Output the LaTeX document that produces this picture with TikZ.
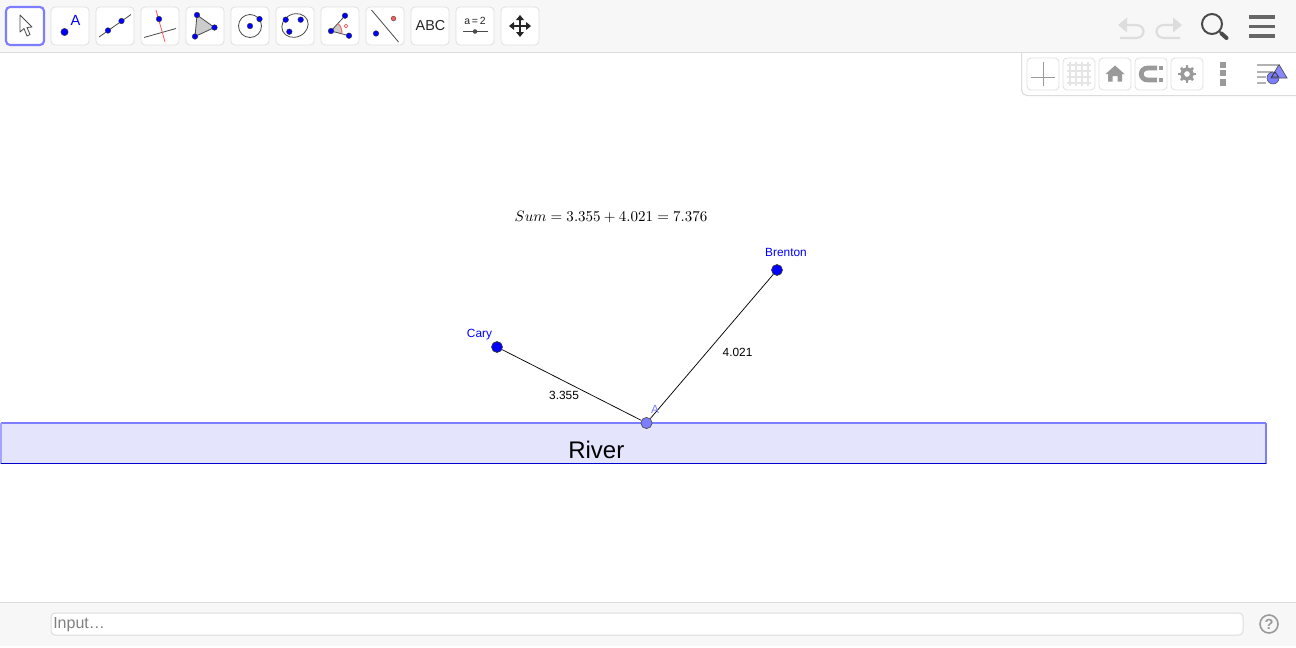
\documentclass[tikz,border=0pt]{standalone}
\usepackage[no-math]{fontspec}
\newfontfamily\lsans{Liberation Sans}
\definecolor{barbg}{HTML}{F7F7F7}
\definecolor{barline}{HTML}{DCDCDC}
\definecolor{btnline}{HTML}{E0E0E0}
\definecolor{selblue}{HTML}{7D7DFF}
\definecolor{ptblue}{HTML}{0000FF}
\definecolor{ptA}{HTML}{7D7DFF}
\definecolor{river}{HTML}{E4E4FC}
\definecolor{iconred}{HTML}{FF5A5A}
\definecolor{icondark}{HTML}{4A4A4A}
\definecolor{icongray}{HTML}{9A9A9A}
\definecolor{undogray}{HTML}{DDDDDD}
\tikzset{
  x=0.75pt,y=-0.75pt,
  tbtn/.style={draw=btnline,fill=white,rounded corners=3pt,line width=0.6pt},
  sbtn/.style={draw=btnline,fill=white,rounded corners=3pt,line width=0.6pt},
  dot/.style={circle,fill=ptblue,draw=black!80,line width=0.3pt,inner sep=0pt,minimum size=#1},
  dot/.default=4.2pt,
  pointnode/.style={circle,fill=ptblue,draw=black!80,line width=0.5pt,inner sep=0pt,minimum size=8.2pt},
  seg/.style={draw=black,line width=0.55pt},
  icoline/.style={draw=icondark,line width=0.6pt},
  lab/.style={font=\lsans\fontsize{8.9pt}{10pt}\selectfont,inner sep=0pt},
  ptlab/.style={lab,text=ptblue},
}
\begin{document}
\begin{tikzpicture}
\useasboundingbox (0,0) rectangle (1296,647);
\fill[white] (0,0) rectangle (1296,647);
% top bar
\fill[barbg] (0,0) rectangle (1296,52);
\draw[barline,line width=0.75pt] (0,52.5) -- (1296,52.5);
% toolbar buttons
\draw[selblue,fill=white,rounded corners=3pt,line width=1.6pt] (6,7) rectangle (44,45);
\foreach \x in {51,96,141,186,231,276,321,366,411,456,501}
  \draw[tbtn] (\x,7) rectangle (\x+38,45);
% cursor
\draw[icondark,fill=white,line width=0.6pt,line join=round] (20,15) -- (20,32) -- (24,28.5) -- (27,36) -- (30,34.5) -- (27,27.5) -- (32,27) -- cycle;
% point
\node[dot=5.5pt] (i1) at (64.5,32) {};
\node[font=\lsans\fontsize{11pt}{12pt}\selectfont,text=ptblue,inner sep=0pt] (i1a) at (75.5,20.5) {A};
% line
\draw[icoline] (99,37) -- (131,14.5);
\node[dot] at (108,30.5) {};
\node[dot] at (121.5,21) {};
% perpendicular
\draw[icoline] (144,37.5) -- (176,28.5);
\draw[iconred,line width=0.6pt] (156,10) -- (165,42);
\node[dot] at (159,19) {};
% polygon
\fill[black!20] (197,15) -- (214.5,27.5) -- (195,36.5) -- cycle;
\draw[icoline] (197,15) -- (214.5,27.5) -- (195,36.5) -- cycle;
\node[dot] at (197,15) {};
\node[dot] at (214.5,27.5) {};
\node[dot] at (195,36.5) {};
% circle
\draw[icoline] (250,26) circle (11.5);
\node[dot] at (250,26) {};
\node[dot] at (259.5,19) {};
% conic
\draw[icoline,rotate around={25:(295,25.5)}] (295,25.5) ellipse (13.5 and 11.5);
\node[dot] at (285.7,19.7) {};
\node[dot] at (300.7,19.7) {};
\node[dot] at (289.3,31.7) {};
% angle
\fill[black!20] (331,31) -- (338.3,23.8) .. controls (341,26) and (342,30) .. (342,33.8) -- cycle;
\draw[icoline] (345,15.7) -- (331,31) -- (349,35.7);
\draw[iconred,line width=0.7pt] (338.3,23.8) .. controls (341,26) and (342,30) .. (342,33.8);
\node[dot] at (345,15.7) {};
\node[dot] at (331,31) {};
\node[dot] at (349,35.7) {};
\draw[iconred,line width=0.5pt] (346,26) circle (1.8);
% reflect
\draw[icoline] (371.5,10) -- (398.5,42);
\node[dot] at (376,33.5) {};
\node[circle,fill=iconred,draw=black!70,line width=0.3pt,inner sep=0pt,minimum size=3.6pt] at (393.5,18.5) {};
% ABC
\node[font=\lsans\fontsize{10.8pt}{12pt}\selectfont,text=black!85,inner sep=0pt] (abc) at (430.5,26) {ABC};
% slider
\node[font=\lsans\fontsize{7.8pt}{8pt}\selectfont,text=black!85,inner sep=0pt] (sl) at (475,21) {a\,=\,2};
\draw[icondark,line width=0.6pt] (463,31.5) -- (487.5,31.5);
\node[circle,fill=icondark,inner sep=0pt,minimum size=3.4pt] at (475,31.5) {};
% move
\draw[black!85,line width=1pt] (510,26) -- (530,26) (520,16) -- (520,36);
\fill[black!85] (509,26) -- (514,22) -- (514,30) -- cycle;
\fill[black!85] (531,26) -- (526,22) -- (526,30) -- cycle;
\fill[black!85] (520,15) -- (516,20) -- (524,20) -- cycle;
\fill[black!85] (520,37) -- (516,32) -- (524,32) -- cycle;
% undo redo
\draw[undogray,line width=1.6pt] (1122,25) -- (1136,25) .. controls (1146,25) and (1146,38) .. (1136,38) -- (1120,38);
\fill[undogray] (1118,25) -- (1127,17.5) -- (1127,32.5) -- cycle;
\draw[undogray,line width=1.6pt] (1174,25) -- (1164,25) .. controls (1154,25) and (1154,38) .. (1164,38) -- (1180,38);
\fill[undogray] (1182,25) -- (1173,17.5) -- (1173,32.5) -- cycle;
% search
\draw[icondark,line width=1.5pt] (1212,24) circle (10);
\draw[icondark,line width=1.2pt] (1219,31) -- (1221.5,33.5);
\draw[icondark,line width=3pt,line cap=round] (1221.5,33.5) -- (1226.5,38);
% menu
\foreach \y in {17,26.5,36}
  \fill[black!60] (1249,\y-1.7) rectangle (1275,\y+1.7);
% style bar panel
\draw[barline,line width=0.75pt,rounded corners=4pt] (1021.5,53) -- (1021.5,95.5) -- (1296,95.5);
\foreach \x in {1027,1063,1099,1135,1171}
  \draw[sbtn] (\x,58) rectangle (\x+32,90);
% axes
\draw[icongray,line width=0.7pt] (1031,77) -- (1055,77) (1043,62) -- (1043,86);
% grid
\foreach \t in {1070,1076,1082,1088} \draw[black!10,line width=0.8pt] (\t,62) -- (\t,86);
\foreach \t in {65,71,77,83} \draw[black!10,line width=0.8pt] (1067,\t) -- (1091,\t);
% home
\fill[icongray] (1115,65.5) -- (1124.5,74) -- (1122,74) -- (1122,81.5) -- (1117.5,81.5) -- (1117.5,76) -- (1112.5,76) -- (1112.5,81.5) -- (1108,81.5) -- (1108,74) -- (1105.5,74) -- cycle;
% magnet
\draw[icongray,line width=3.6pt] (1157,68) -- (1148,68) .. controls (1139,68) and (1139,80) .. (1148,80) -- (1157,80);
\fill[icongray] (1159,66) rectangle (1163,70);
\fill[icongray] (1159,78) rectangle (1163,82);
% gear
\draw[icongray,line width=2.8pt] (1187,74) circle (5);
\foreach \a in {0,45,...,315}
  \draw[icongray,line width=2pt] (1187,74) ++(\a:6) -- ++(\a:2.6);
% dots
\fill[icongray] (1220,62) rectangle (1226,68);
\fill[icongray] (1220,70) rectangle (1226,76);
\fill[icongray] (1220,79) rectangle (1226,86);
% properties
\draw[black!30,line width=1pt] (1257,65) -- (1278,65);
\draw[black!30,line width=1pt] (1257,72) -- (1273,72);
\draw[black!30,line width=1pt] (1257,77) -- (1266,77);
\draw[black!30,line width=1pt] (1257,83) -- (1266,83);
\filldraw[fill=selblue,draw=icondark,line width=0.4pt] (1273,78) circle (6);
\filldraw[fill=selblue,fill opacity=0.9,draw=icondark,line width=0.5pt] (1279,64.5) -- (1287,78) -- (1271,78) -- cycle;
\draw[black!80,line width=0.5pt] (1275,72) -- (1278.5,77) -- (1271.5,77) -- cycle;
% river
\fill[river] (1,423) rectangle (1266,463.5);
\draw[selblue,line width=1pt] (1,423) -- (1266,423);
\draw[selblue,line width=1pt] (1266,423) -- (1266,463.5);
\draw[selblue!70,line width=0.8pt] (1,423) -- (1,463.5);
\draw[ptblue!80!black,line width=0.8pt] (1,463.5) -- (1266,463.5);
\node[font=\lsans\fontsize{18pt}{20pt}\selectfont,inner sep=0pt,anchor=base west] (riv) at (568,458) {River};
% formula
\node[font=\fontsize{11pt}{13pt}\selectfont,inner sep=0pt,scale=1.027] (sum) at (611,216.5) {$Sum = 3.355 + 4.021 = 7.376$};
% points
\node[pointnode] (cary) at (497,347) {};
\node[pointnode] (brenton) at (777,270) {};
\node[circle,fill=ptA,draw=black!70,line width=0.5pt,inner sep=0pt,minimum size=8.4pt] (a) at (646.5,423) {};
\draw[seg] (cary) -- (a);
\draw[seg] (brenton) -- (a);
\node[ptlab] (lc) at (479.5,334.5) {Cary};
\node[ptlab] (lb) at (786,252.5) {Brenton};
\node[lab,text=ptA] (la) at (655,409.5) {A};
\node[lab] (l1) at (564,395.5) {3.355};
\node[lab] (l2) at (737.5,352.5) {4.021};
% bottom bar
\fill[barbg] (0,602) rectangle (1296,646);
\draw[barline,line width=0.75pt] (0,602.5) -- (1296,602.5);
\draw[barline,fill=white,rounded corners=3pt,line width=0.75pt] (51,613) rectangle (1243,635);
\node[font=\lsans\fontsize{12pt}{14pt}\selectfont,text=black!50,inner sep=0pt,anchor=west] (inp) at (53,625) {Input…};
\draw[icongray,line width=1.2pt] (1269,624) circle (9);
\node[font=\lsans\bfseries\fontsize{11pt}{12pt}\selectfont,text=icongray,inner sep=0pt] (q) at (1269,624) {?};
\end{tikzpicture}
\end{document}
